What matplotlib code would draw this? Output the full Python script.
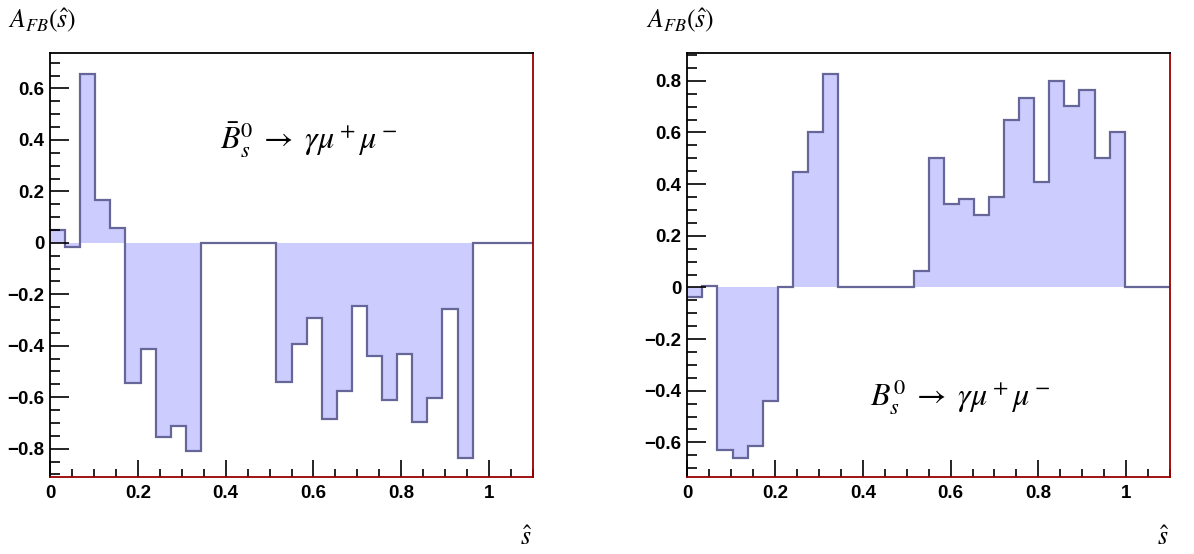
import numpy as np
import matplotlib.pyplot as plt
from matplotlib.ticker import MultipleLocator, FuncFormatter

plt.rcParams['mathtext.fontset'] = 'stix'
plt.rcParams['font.family'] = ['Liberation Sans', 'DejaVu Sans']

# 32 bins of s-hat between 0 and 1.1
edges = np.linspace(0, 1.1, 33)

afb_bar = [0.05, -0.016, 0.658, 0.166, 0.058, -0.546, -0.413, -0.756, -0.712, -0.809,
           0, 0, 0, 0, 0,
           -0.54, -0.395, -0.292, -0.686, -0.576, -0.247, -0.44, -0.61, -0.431, -0.695,
           -0.602, -0.259, -0.838, 0, 0, 0, 0]

afb = [-0.039, 0.006, -0.63, -0.662, -0.614, -0.439, 0.003, 0.448, 0.602, 0.828,
       0, 0, 0, 0, 0,
       0.064, 0.502, 0.322, 0.344, 0.282, 0.351, 0.648, 0.732, 0.409, 0.801,
       0.703, 0.763, 0.502, 0.602, 0, 0, 0]

fill_col = '#ccccff'
line_col = '#666699'
red = '#990000'


def fmt(v, pos):
    s = '{:g}'.format(round(v, 3))
    return s.replace('-', '\u2212')


fig = plt.figure(figsize=(11.94, 5.54), dpi=100)
panels = [
    (afb_bar, [0.0419, 0.1395, 0.4045, 0.764], (-0.909, 0.736),
     r'$\bar{B}_s^0 \;\rightarrow\; \gamma\mu^+\mu^-$', (0.535, 0.795), 0.0),
    (afb, [0.5756, 0.1395, 0.4043, 0.764], (-0.733, 0.906),
     r'$B_s^0 \;\rightarrow\; \gamma\mu^+\mu^-$', (0.565, 0.19), 0.5338),
]

for vals, rect, ylim, label, pos, xoff in panels:
    ax = fig.add_axes(rect)
    ax.stairs(vals, edges, baseline=0, fill=True, color=fill_col, lw=0)
    ax.stairs(vals, edges, baseline=None, color=line_col, lw=1.6)
    ax.set_xlim(0, 1.1)
    ax.set_ylim(*ylim)

    ax.spines['top'].set_color('black')
    ax.spines['left'].set_color('black')
    ax.spines['bottom'].set_color(red)
    ax.spines['right'].set_color(red)
    for sp in ax.spines.values():
        sp.set_linewidth(1.3)

    ax.xaxis.set_major_locator(MultipleLocator(0.2))
    ax.xaxis.set_minor_locator(MultipleLocator(0.05))
    ax.yaxis.set_major_locator(MultipleLocator(0.2))
    ax.yaxis.set_minor_locator(MultipleLocator(0.05))
    ax.xaxis.set_major_formatter(FuncFormatter(fmt))
    ax.yaxis.set_major_formatter(FuncFormatter(fmt))
    ax.tick_params(which='both', direction='in', top=False, right=False,
                   color='black', width=1.2, labelsize=13.5)
    ax.tick_params(axis='y', which='major', length=14, pad=4)
    ax.tick_params(axis='y', which='minor', length=7)
    ax.tick_params(axis='x', which='major', length=12, pad=6)
    ax.tick_params(axis='x', which='minor', length=6)
    for t in ax.get_xticklabels() + ax.get_yticklabels():
        t.set_fontweight('bold')

    ax.text(pos[0], pos[1], label, transform=ax.transAxes, fontsize=23,
            ha='center', va='center')

    fig.text(0.007 + xoff, 0.963, r'$A_{FB}(\hat{s})$', fontsize=18.5,
             ha='left', va='center')
    fig.text(rect[0] + rect[2] - 0.006, 0.028, r'$\hat{s}$', fontsize=18.5,
             ha='center', va='center')

fig.savefig('out.png', dpi=100)
